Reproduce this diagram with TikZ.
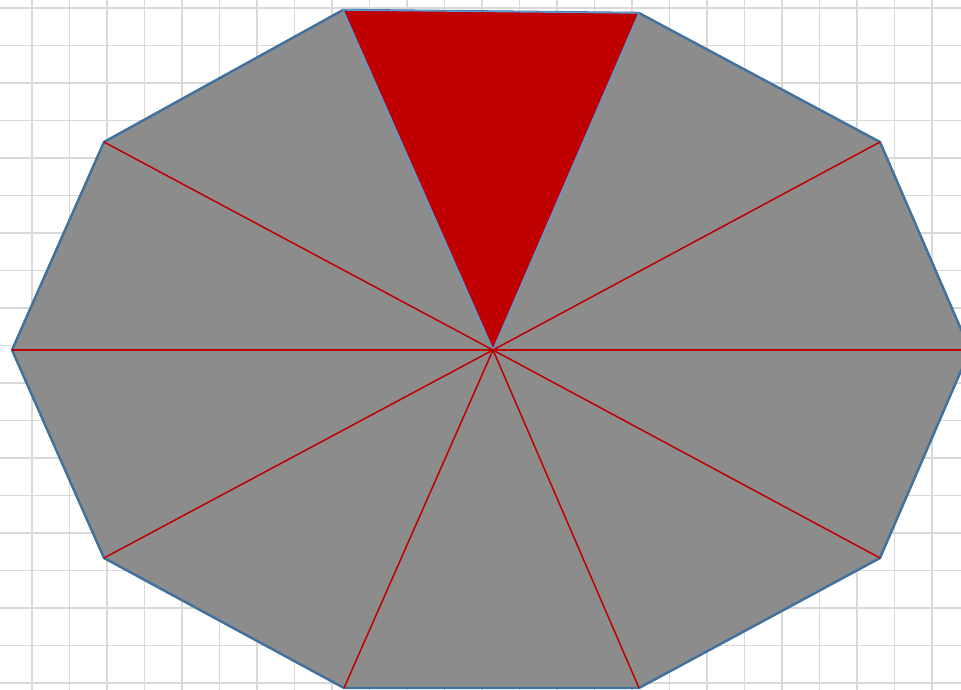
\documentclass[tikz,border=0pt]{standalone}
\usepackage{tikz}

\definecolor{gridgray}{RGB}{217,217,217}
\definecolor{fillgray}{RGB}{140,140,140}
\definecolor{darkred}{RGB}{192,0,0}
\definecolor{edgeblue}{RGB}{65,113,156}
\definecolor{lightblue}{RGB}{91,155,213}

\begin{document}
\begin{tikzpicture}[x=0.02cm,y=-0.02cm]
    \useasboundingbox (0,0) rectangle (961,690);
    \clip (0,0) rectangle (961,690);
    % 网格
    \foreach \gx in {0,...,25} \draw[gridgray, line width=0.8pt] (32+37.5*\gx,0) -- (32+37.5*\gx,690);
    \foreach \gy in {0,...,18} \draw[gridgray, line width=0.8pt] (0,8+37.5*\gy) -- (961,8+37.5*\gy);
    % 顶点
    \coordinate (O) at (493,350);
    \coordinate (p1) at (343,10);
    \coordinate (p2) at (639,13);
    \coordinate (p3) at (880,142);
    \coordinate (p4) at (970,350);
    \coordinate (p5) at (880,558);
    \coordinate (p6) at (639,688);
    \coordinate (p7) at (344,688);
    \coordinate (p8) at (104,558);
    \coordinate (p9) at (12,350);
    \coordinate (p10) at (104,142);
    % 十边形
    \filldraw[fill=fillgray, draw=edgeblue, line width=1.4pt, line join=round]
        (p1) -- (p2) -- (p3) -- (p4) -- (p5) -- (p6) -- (p7) -- (p8) -- (p9) -- (p10) -- cycle;
    % 红色三角形
    \filldraw[fill=darkred, draw=lightblue, line width=0.8pt, line join=round] (p1) -- (p2) -- (O) -- cycle;
    % 辐条
    \foreach \k in {3,...,10} \draw[darkred, line width=0.85pt] (O) -- (p\k);
\end{tikzpicture}
\end{document}
